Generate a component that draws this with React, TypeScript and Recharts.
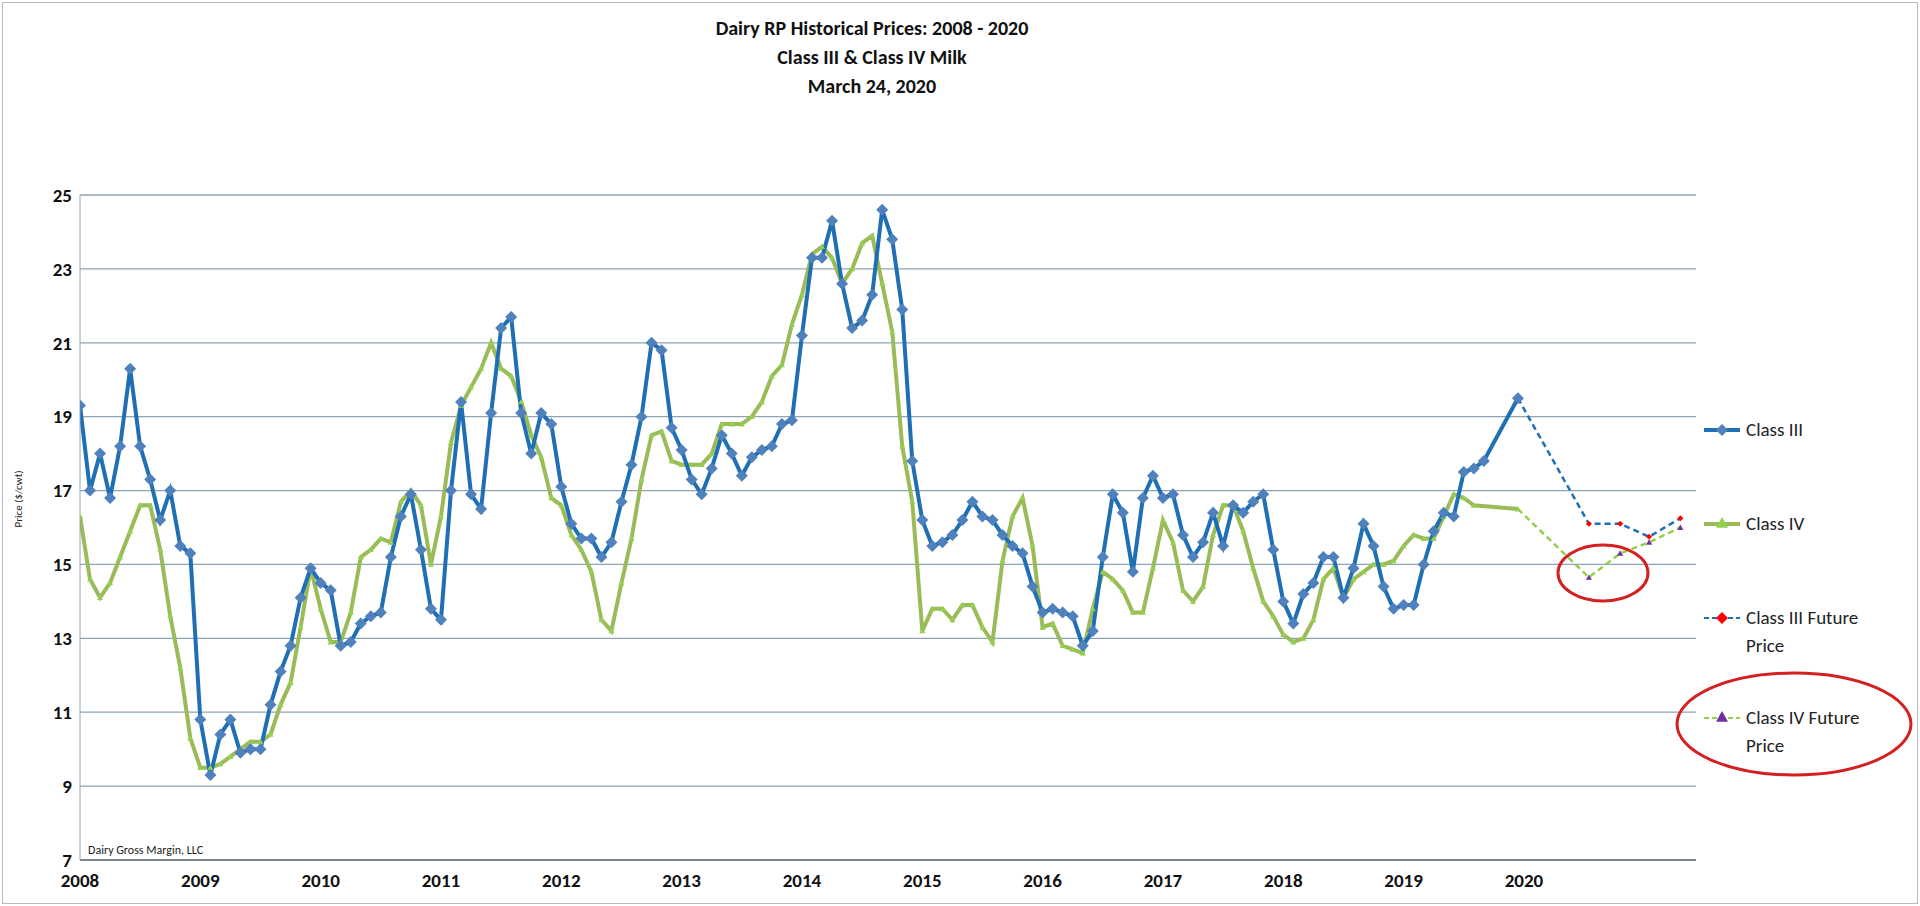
import React from 'react';
import { LineChart, Line, XAxis, YAxis, CartesianGrid } from 'recharts';

// monthly prices 2008-01 .. 2019-09, plus one early-2020 point
const classIII = [
  19.3, 17.0, 18.0, 16.8, 18.2, 20.3, 18.2, 17.3, 16.2, 17.0, 15.5, 15.3,
  10.8, 9.3, 10.4, 10.8, 9.9, 10.0, 10.0, 11.2, 12.1, 12.8, 14.1, 14.9,
  14.5, 14.3, 12.8, 12.9, 13.4, 13.6, 13.7, 15.2, 16.3, 16.9, 15.4, 13.8,
  13.5, 17.0, 19.4, 16.9, 16.5, 19.1, 21.4, 21.7, 19.1, 18.0, 19.1, 18.8,
  17.1, 16.1, 15.7, 15.7, 15.2, 15.6, 16.7, 17.7, 19.0, 21.0, 20.8, 18.7,
  18.1, 17.3, 16.9, 17.6, 18.5, 18.0, 17.4, 17.9, 18.1, 18.2, 18.8, 18.9,
  21.2, 23.3, 23.3, 24.3, 22.6, 21.4, 21.6, 22.3, 24.6, 23.8, 21.9, 17.8,
  16.2, 15.5, 15.6, 15.8, 16.2, 16.7, 16.3, 16.2, 15.8, 15.5, 15.3, 14.4,
  13.7, 13.8, 13.7, 13.6, 12.8, 13.2, 15.2, 16.9, 16.4, 14.8, 16.8, 17.4,
  16.8, 16.9, 15.8, 15.2, 15.6, 16.4, 15.5, 16.6, 16.4, 16.7, 16.9, 15.4,
  14.0, 13.4, 14.2, 14.5, 15.2, 15.2, 14.1, 14.9, 16.1, 15.5, 14.4, 13.8,
  13.9, 13.9, 15.0, 15.9, 16.4, 16.3, 17.5, 17.6, 17.8,
];
const classIV = [
  16.3, 14.6, 14.1, 14.5, 15.2, 15.9, 16.6, 16.6, 15.4, 13.6, 12.2, 10.3,
  9.5, 9.5, 9.6, 9.8, 10.0, 10.2, 10.2, 10.4, 11.2, 11.8, 13.3, 14.9,
  13.8, 12.9, 12.9, 13.7, 15.2, 15.4, 15.7, 15.6, 16.7, 17.0, 16.6, 15.0,
  16.3, 18.3, 19.3, 19.8, 20.3, 21.0, 20.3, 20.1, 19.4, 18.5, 17.9, 16.8,
  16.6, 15.8, 15.4, 14.8, 13.5, 13.2, 14.5, 15.7, 17.3, 18.5, 18.6, 17.8,
  17.7, 17.7, 17.7, 18.0, 18.8, 18.8, 18.8, 19.0, 19.4, 20.1, 20.4, 21.5,
  22.3, 23.4, 23.6, 23.3, 22.6, 23.0, 23.7, 23.9, 22.6, 21.3, 18.2, 16.7,
  13.2, 13.8, 13.8, 13.5, 13.9, 13.9, 13.3, 12.9, 15.1, 16.3, 16.8, 15.5,
  13.3, 13.4, 12.8, 12.7, 12.6, 13.8, 14.8, 14.6, 14.3, 13.7, 13.7, 14.9,
  16.2, 15.6, 14.3, 14.0, 14.4, 15.8, 16.6, 16.6, 15.9, 14.9, 14.0, 13.6,
  13.1, 12.9, 13.0, 13.5, 14.6, 14.9, 14.1, 14.6, 14.8, 15.0, 15.0, 15.1,
  15.5, 15.8, 15.7, 15.7, 16.3, 16.9, 16.8, 16.6,
];
const lastDate = 2019.95;
const lastIII = 19.5;
const lastIV = 16.5;

const futureDates = [2019.95, 2020.54, 2020.8, 2021.04, 2021.3];
const futureIII = [19.5, 16.1, 16.1, 15.75, 16.25];
const futureIV = [16.5, 14.65, 15.3, 15.6, 16.0];

const yearTicks = [2008, 2009, 2010, 2011, 2012, 2013, 2014, 2015, 2016, 2017, 2018, 2019, 2020];
const priceTicks = [7, 9, 11, 13, 15, 17, 19, 21, 23, 25];

const toRows = (vals: number[], last: number) => [
  ...vals.map((v, i) => ({ t: 2008 + i / 12, v })),
  { t: lastDate, v: last },
];
const iiiRows = toRows(classIII, lastIII);
const ivRows = toRows(classIV, lastIV);
const futIIIRows = futureDates.map((t, i) => ({ t, v: futureIII[i], mark: i > 0 }));
const futIVRows = futureDates.map((t, i) => ({ t, v: futureIV[i], mark: i > 0 }));

const Diamond = ({ cx, cy, fill, r = 5 }: any) =>
  cx == null ? null : (
    <path d={`M${cx},${cy - r} L${cx + r},${cy} L${cx},${cy + r} L${cx - r},${cy} Z`} fill={fill} />
  );
const Tri = ({ cx, cy, fill, r = 6 }: any) =>
  cx == null ? null : (
    <path d={`M${cx},${cy - r} L${cx + r},${cy + r * 0.8} L${cx - r},${cy + r * 0.8} Z`} fill={fill} />
  );

const font = 'Calibri, Carlito, "Liberation Sans", Arial, sans-serif';

const legendItems = [
  { label: ['Class III'], color: '#1F6FB4', dot: '#4F81BD', shape: 'd', dash: false },
  { label: ['Class IV'], color: '#9BBB59', dot: '#92D050', shape: 't', dash: false },
  { label: ['Class III Future', 'Price'], color: '#1F6FB4', dot: '#FF0000', shape: 'd', dash: true },
  { label: ['Class IV Future', 'Price'], color: '#92D050', dot: '#7030A0', shape: 't', dash: true },
];
const legendTops = [418, 512, 606, 706];

export default function App() {
  return (
    <div style={{ position: 'absolute', left: 0, top: 0, width: 1920, height: 906, background: '#fff', fontFamily: font, overflow: 'hidden' }}>
      <div style={{ position: 'absolute', left: 2, top: 2, width: 1914, height: 900, border: '1px solid #bbb' }} />
      <div style={{ position: 'absolute', left: 572, width: 600, top: 14, textAlign: 'center', fontWeight: 700, fontSize: 20, lineHeight: '29px', color: '#111' }}>
        <div>Dairy RP Historical Prices: 2008 - 2020</div>
        <div>Class III &amp; Class IV Milk</div>
        <div>March 24, 2020</div>
      </div>
      <LineChart width={1920} height={906} data={iiiRows} margin={{ top: 195, right: 224, bottom: 14, left: 30 }}>
        <CartesianGrid vertical={false} stroke="#8EA4B4" strokeWidth={1.3} />
        <XAxis
          type="number"
          dataKey="t"
          domain={[2008, 2021.43]}
          ticks={yearTicks}
          allowDataOverflow
          tickLine={false}
          axisLine={{ stroke: '#555' }}
          height={32}
          tick={{ fontSize: 19, fontWeight: 700, fill: '#111', fontFamily: font }}
          tickMargin={8}
        />
        <YAxis
          type="number"
          domain={[7, 25]}
          ticks={priceTicks}
          width={50}
          tickLine={false}
          axisLine={{ stroke: '#8EA4B4' }}
          tick={{ fontSize: 19, fontWeight: 700, fill: '#111', fontFamily: font }}
          label={{ value: 'Price ($/cwt)', angle: -90, position: 'insideLeft', offset: -12, style: { fontSize: 11, fill: '#222' } }}
        />
        <Line data={futIIIRows} dataKey="v" stroke="#1F6FB4" strokeWidth={2.5} strokeDasharray="6 4" isAnimationActive={false}
          dot={(p: any) => (p.payload.mark ? <Diamond key={p.index} {...p} fill="#FF0000" /> : <g key={p.index} />)} />
        <Line data={futIVRows} dataKey="v" stroke="#92D050" strokeWidth={2.5} strokeDasharray="6 4" isAnimationActive={false}
          dot={(p: any) => (p.payload.mark ? <Tri key={p.index} {...p} fill="#7030A0" /> : <g key={p.index} />)} />
        <Line data={ivRows} dataKey="v" stroke="#9BBB59" strokeWidth={4} isAnimationActive={false}
          dot={(p: any) => <Tri key={p.index} {...p} fill="#92D050" />} />
        <Line data={iiiRows} dataKey="v" stroke="#1F6FB4" strokeWidth={4} isAnimationActive={false}
          dot={(p: any) => <Diamond key={p.index} {...p} fill="#4F81BD" r={6} />} />
      </LineChart>
      <div style={{ position: 'absolute', left: 88, top: 843, fontSize: 12, color: '#222' }}>Dairy Gross Margin, LLC</div>
      {legendItems.map((it, i) => (
        <div key={i} style={{ position: 'absolute', left: 1702, top: legendTops[i], display: 'flex', alignItems: 'flex-start' }}>
          <svg width={40} height={24}>
            <line x1={2} y1={12} x2={38} y2={12} stroke={it.color} strokeWidth={it.dash ? 2 : 4} strokeDasharray={it.dash ? '5 3' : undefined} />
            {it.shape === 'd' ? <Diamond cx={20} cy={12} fill={it.dot} r={6} /> : <Tri cx={20} cy={11} fill={it.dot} r={6} />}
          </svg>
          <div style={{ fontSize: 19, lineHeight: '28px', color: '#222', marginTop: -2, marginLeft: 4 }}>
            {it.label.map((l, j) => <div key={j}>{l}</div>)}
          </div>
        </div>
      ))}
      <svg style={{ position: 'absolute', left: 0, top: 0 }} width={1920} height={906}>
        <ellipse cx={1603} cy={573} rx={45} ry={28} fill="none" stroke="#D42020" strokeWidth={3} />
        <ellipse cx={1794} cy={724} rx={117} ry={51} fill="none" stroke="#D42020" strokeWidth={3} />
      </svg>
    </div>
  );
}
